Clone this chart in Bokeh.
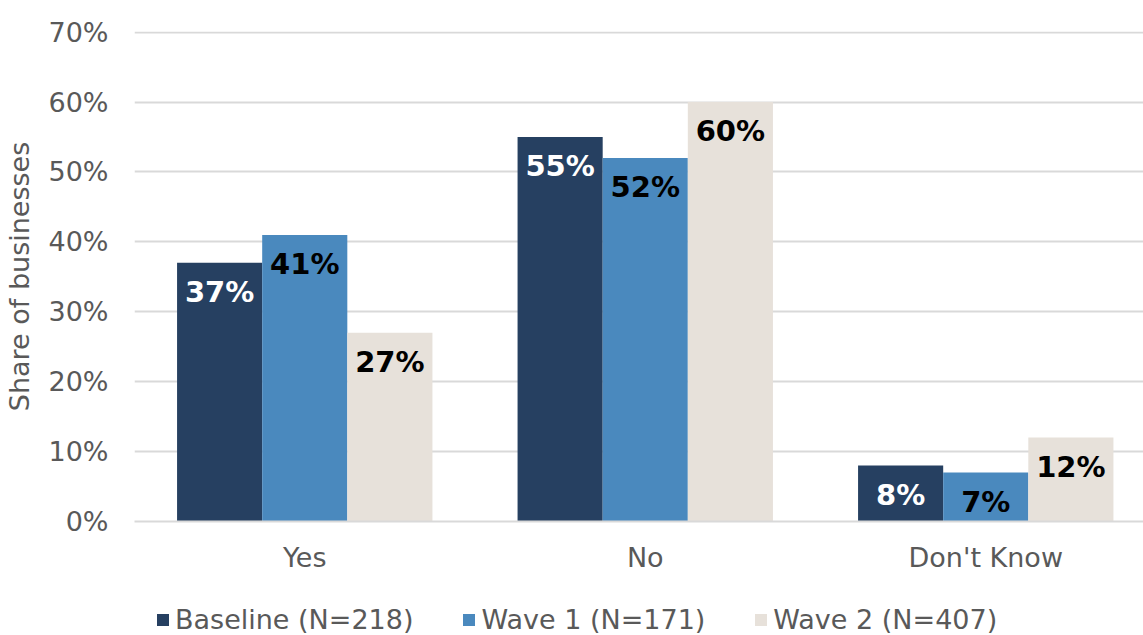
from bokeh.plotting import figure
from bokeh.layouts import column
from bokeh.models import ColumnDataSource, FixedTicker, NumeralTickFormatter, Legend, LegendItem, Range1d
from bokeh.core.properties import value
from bokeh.embed import file_html
from bokeh.resources import INLINE

categories = ["Yes", "No", "Don't Know"]
series_names = ["Baseline (N=218)", "Wave 1 (N=171)", "Wave 2 (N=407)"]
baseline = [0.37, 0.55, 0.08]
wave1 = [0.41, 0.52, 0.07]
wave2 = [0.27, 0.60, 0.12]
y_ticks = [0.0, 0.1, 0.2, 0.3, 0.4, 0.5, 0.6, 0.7]

series = [baseline, wave1, wave2]
colors = ["#264061", "#4A89BE", "#E7E1DA"]
label_colors = ["#FFFFFF", "#000000", "#000000"]
offsets = [-0.25, 0.0, 0.25]
FONT = "DejaVu Sans"
GRAY = "#595959"

p = figure(width=1143, height=585, output_backend="svg", toolbar_location=None,
           x_range=Range1d(0, 1009 / 340.5), y_range=Range1d(0, 0.701),
           min_border_left=134, min_border_right=0, min_border_top=31, min_border_bottom=64)
p.outline_line_color = None
p.background_fill_color = "white"

centers = [i + 0.5 for i in range(len(categories))]
for vals, name, col, lc, off in zip(series, series_names, colors, label_colors, offsets):
    src = ColumnDataSource(dict(
        x=[c + off for c in centers],
        top=vals,
        label=[f"{round(v * 100)}%" for v in vals],
    ))
    p.vbar(x="x", top="top", width=0.25, bottom=0, source=src,
           fill_color=col, line_color=None)
    p.text(x="x", y="top", text="label", source=src, text_align="center",
           text_baseline="middle", y_offset=29, text_color=lc,
           text_font=value(FONT), text_font_style="bold", text_font_size="29px")

# axes
p.xaxis.ticker = FixedTicker(ticks=centers)
p.xaxis.major_label_overrides = {c: cat for c, cat in zip(centers, categories)}
p.xaxis.major_tick_line_color = None
p.xaxis.major_tick_out = 0
p.xaxis.major_tick_in = 0
p.xaxis.minor_tick_line_color = None
p.xaxis.axis_line_color = "#D9D9D9"
p.xaxis.axis_line_width = 2
p.xaxis.major_label_text_font = FONT
p.xaxis.major_label_text_font_size = "27px"
p.xaxis.major_label_text_color = GRAY
p.xaxis.major_label_standoff = 20

p.yaxis.ticker = FixedTicker(ticks=y_ticks)
p.yaxis.formatter = NumeralTickFormatter(format="0%")
p.yaxis.major_tick_line_color = None
p.yaxis.major_tick_out = 0
p.yaxis.major_tick_in = 0
p.yaxis.minor_tick_line_color = None
p.yaxis.axis_line_color = None
p.yaxis.major_label_text_font = FONT
p.yaxis.major_label_text_font_size = "27px"
p.yaxis.major_label_text_color = GRAY
p.yaxis.major_label_standoff = 26
p.yaxis.axis_label = "Share of businesses"
p.yaxis.axis_label_text_font = FONT
p.yaxis.axis_label_text_font_size = "27px"
p.yaxis.axis_label_text_font_style = "normal"
p.yaxis.axis_label_text_color = GRAY
p.yaxis.axis_label_standoff = 10

p.xgrid.grid_line_color = None
p.ygrid.grid_line_color = "#D9D9D9"
p.ygrid.grid_line_width = 2

# legend figure below the chart (swatches use renderers whose bars lie outside its range)
lf = figure(width=1143, height=50, output_backend="svg", toolbar_location=None,
            x_range=Range1d(0, 1), y_range=Range1d(0, 1),
            min_border=0, min_border_left=0, min_border_right=0,
            min_border_top=0, min_border_bottom=0)
lf.axis.visible = False
lf.grid.visible = False
lf.outline_line_color = None
items = []
for name, col in zip(series_names, colors):
    r = lf.vbar(x=[10], top=[10], bottom=[9], width=0.1, fill_color=col, line_color=None)
    items.append(LegendItem(label=name, renderers=[r]))

legend = Legend(items=items, orientation="horizontal", location=(21, 0),
                glyph_width=15, glyph_height=15, label_standoff=5, spacing=48,
                padding=0, margin=0, border_line_color=None, background_fill_alpha=0,
                label_text_font=FONT, label_text_font_size="27px", label_text_color=GRAY)
lf.add_layout(legend, "center")

layout = column(p, lf, spacing=0)
open("out.html", "w").write(file_html(layout, INLINE))
